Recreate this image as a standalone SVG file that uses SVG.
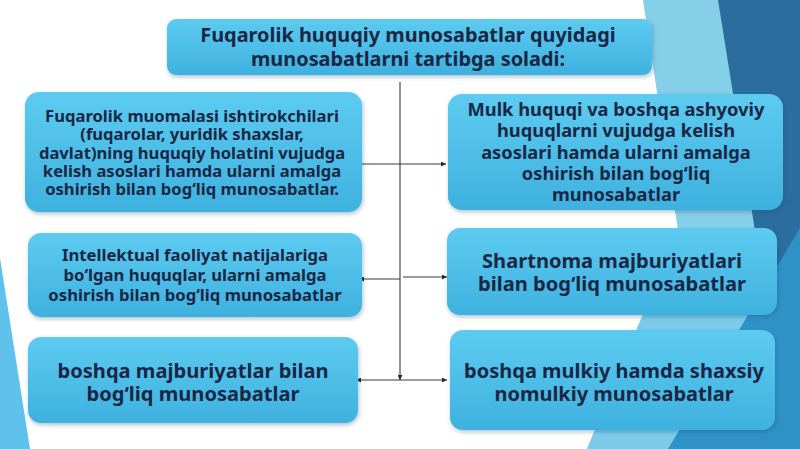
<svg xmlns="http://www.w3.org/2000/svg" width="800" height="449" viewBox="0 0 800 449">
<defs>
<linearGradient id="bx" x1="0" y1="0" x2="0" y2="1">
<stop offset="0" stop-color="#5dcbf0"/>
<stop offset="1" stop-color="#3eb1df"/>
</linearGradient>
<filter id="sh" x="-10%" y="-10%" width="120%" height="130%">
<feDropShadow dx="1" dy="2" stdDeviation="2" flood-color="#1b4f72" flood-opacity="0.35"/>
</filter>
<marker id="ar" viewBox="0 0 6 6" refX="6" refY="3" markerWidth="5" markerHeight="5" markerUnits="userSpaceOnUse" orient="auto-start-reverse">
<path d="M0,0 L6,3 L0,6 z" fill="#2b2b2b"/>
</marker>
<style>
.box{fill:url(#bx);filter:url(#sh);}
.t{font-family:"Noto Sans","Open Sans","DejaVu Sans",sans-serif;font-weight:bold;fill:#1a2744;text-anchor:middle;}
.ln{stroke:#3a3a3a;stroke-width:1.1;fill:none;}
</style>
</defs>
<rect width="800" height="449" fill="#ffffff"/>
<g id="background">
<polygon points="643,0 800,0 800,449 587,449 678,230" fill="#86cfe9"/>
<polygon points="678,230 800,235 800,449 587,449" fill="#7ccbe9"/>
<polygon points="718,0 800,0 800,449 790,449" fill="#2b6d9d"/>
<polygon points="800,228 800,449 668,449" fill="#2f92c7"/>
<polygon points="0,258 30,449 0,449" fill="#5fc2ea"/>
</g>
<g id="connectors">
<line class="ln" x1="400" y1="82" x2="400" y2="380" marker-end="url(#ar)"/>
<line class="ln" x1="356" y1="164" x2="446" y2="164" marker-start="url(#ar)" marker-end="url(#ar)"/>
<line class="ln" x1="400" y1="279" x2="359" y2="279" marker-end="url(#ar)"/>
<line class="ln" x1="403" y1="277" x2="447" y2="277" marker-end="url(#ar)"/>
<line class="ln" x1="356" y1="380" x2="447" y2="380" marker-start="url(#ar)" marker-end="url(#ar)"/>
</g>
<g id="title">
<rect class="box" x="167" y="19" width="485" height="56" rx="9"/>
<text class="t" font-size="19.9" x="408" y="41.5">Fuqarolik huquqiy munosabatlar quyidagi</text>
<text class="t" font-size="19.9" x="408" y="65.5">munosabatlarni tartibga soladi:</text>
</g>
<g id="node1">
<rect class="box" x="25" y="92" width="337" height="120" rx="14"/>
<text class="t" font-size="16.6" x="192" y="121.5">Fuqarolik muomalasi ishtirokchilari</text>
<text class="t" font-size="16.6" x="192" y="140">(fuqarolar, yuridik shaxslar,</text>
<text class="t" font-size="16.6" x="192" y="158.5">davlat)ning huquqiy holatini vujudga</text>
<text class="t" font-size="16.6" x="192" y="177">kelish asoslari hamda ularni amalga</text>
<text class="t" font-size="16.6" x="192" y="195">oshirish bilan bog‘liq munosabatlar.</text>
</g>
<g id="node2">
<rect class="box" x="448" y="94" width="335" height="116" rx="14"/>
<text class="t" font-size="18.3" x="616" y="115.5">Mulk huquqi va boshqa ashyoviy</text>
<text class="t" font-size="18.3" x="616" y="137">huquqlarni vujudga kelish</text>
<text class="t" font-size="18.3" x="616" y="158.5">asoslari hamda ularni amalga</text>
<text class="t" font-size="18.3" x="616" y="179.5">oshirish bilan bog‘liq</text>
<text class="t" font-size="18.3" x="616" y="200.5">munosabatlar</text>
</g>
<g id="node3">
<rect class="box" x="28" y="233" width="334" height="84" rx="13"/>
<text class="t" font-size="16.7" x="195" y="260.5">Intellektual faoliyat natijalariga</text>
<text class="t" font-size="16.7" x="195" y="280.5">bo‘lgan huquqlar, ularni amalga</text>
<text class="t" font-size="16.7" x="195" y="300.5">oshirish bilan bog‘liq munosabatlar</text>
</g>
<g id="node4">
<rect class="box" x="28" y="337" width="330" height="86" rx="13"/>
<text class="t" font-size="20.1" x="193" y="377.5">boshqa majburiyatlar bilan</text>
<text class="t" font-size="20.1" x="193" y="400.5">bog‘liq munosabatlar</text>
</g>
<g id="node5">
<rect class="box" x="447" y="228" width="330" height="87" rx="13"/>
<text class="t" font-size="20.1" x="612" y="267.5">Shartnoma majburiyatlari</text>
<text class="t" font-size="20.1" x="612" y="290.5">bilan bog‘liq munosabatlar</text>
</g>
<g id="node6">
<rect class="box" x="450" y="330" width="325" height="100" rx="13"/>
<text class="t" font-size="20" x="614" y="377.5">boshqa mulkiy hamda shaxsiy</text>
<text class="t" font-size="20" x="614" y="400.5">nomulkiy munosabatlar</text>
</g>
</svg>
